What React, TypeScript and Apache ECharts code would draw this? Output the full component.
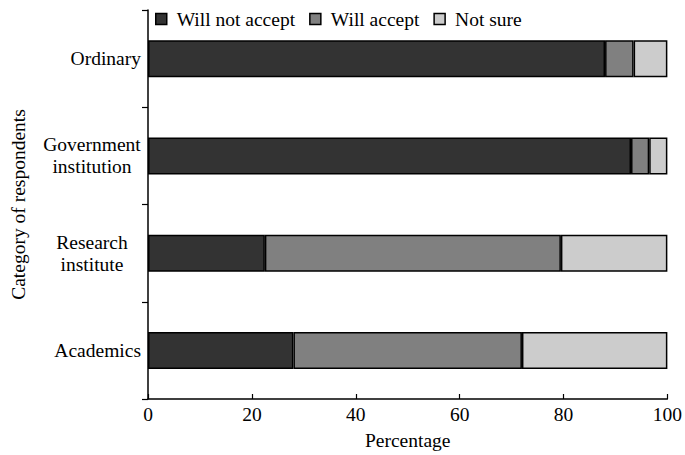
import React, { useEffect, useRef } from "react";
import * as echarts from "echarts";

const categories = ["Ordinary", "Government\ninstitution", "Research\ninstitute", "Academics"];
const willNotAccept = [88, 93, 22.5, 28];
const willAccept = [5.5, 3.5, 57, 44];
const notSure = [6.5, 3.5, 20.5, 28];
const seriesNames = ["Will not accept", "Will accept", "Not sure"];
const colors = ["#333333", "#808080", "#cccccc"];

const FONT = "Liberation Serif";
const FS = 19.5;

export default function App() {
  const ref = useRef<HTMLDivElement>(null);
  useEffect(() => {
    if (!ref.current) return;
    const chart = echarts.init(ref.current, null, { renderer: "svg" });
    const data = [willNotAccept, willAccept, notSure];
    chart.setOption({
      animation: false,
      textStyle: { fontFamily: FONT, color: "#000" },
      legend: {
        left: 150,
        top: 4,
        icon: "rect",
        itemWidth: 11,
        itemHeight: 11,
        itemGap: 14,
        textStyle: { fontFamily: FONT, fontSize: FS, color: "#000", padding: [0, 0, 0, 5] },
        itemStyle: { borderColor: "#000", borderWidth: 1.5 },
        data: seriesNames,
      },
      grid: { left: 148, right: 17, top: 10, bottom: 56, containLabel: false },
      xAxis: {
        type: "value",
        min: 0,
        max: 100,
        interval: 20,
        name: "Percentage",
        nameLocation: "middle",
        nameGap: 31,
        nameTextStyle: { fontFamily: FONT, fontSize: FS, color: "#000" },
        axisLine: { show: true, lineStyle: { color: "#000", width: 1.5 } },
        axisTick: { show: true, inside: true, length: 5, lineStyle: { color: "#000", width: 1.2 } },
        axisLabel: { fontFamily: FONT, fontSize: FS, color: "#000", margin: 5 },
        splitLine: { show: false },
      },
      yAxis: {
        type: "category",
        inverse: true,
        data: categories,
        name: "Category of respondents",
        nameLocation: "middle",
        nameRotate: 90,
        nameGap: 120,
        nameTextStyle: { fontFamily: FONT, fontSize: FS, color: "#000" },
        axisLine: { show: true, lineStyle: { color: "#000", width: 1.5 } },
        axisTick: { show: true, length: 6, lineStyle: { color: "#000", width: 1.2 } },
        axisLabel: {
          fontFamily: FONT,
          fontSize: FS,
          color: "#000",
          margin: 7,
          lineHeight: 22,
          formatter: (v: string) => {
            if (v.indexOf("\n") < 0) return v;
            return v
              .split("\n")
              .map((s) => "{c|" + s + "}")
              .join("\n");
          },
          rich: {
            c: { fontFamily: FONT, fontSize: FS, color: "#000", width: 98, align: "center", lineHeight: 22 },
          },
        },
      },
      series: seriesNames.map((name, i) => ({
        name,
        type: "bar",
        stack: "total",
        barWidth: 37,
        data: data[i],
        itemStyle: { color: colors[i], borderColor: "#000", borderWidth: 1.5 },
      })),
    });
    return () => chart.dispose();
  }, []);
  return <div ref={ref} style={{ width: 685, height: 455, position: "absolute", left: 0, top: 0 }} />;
}
